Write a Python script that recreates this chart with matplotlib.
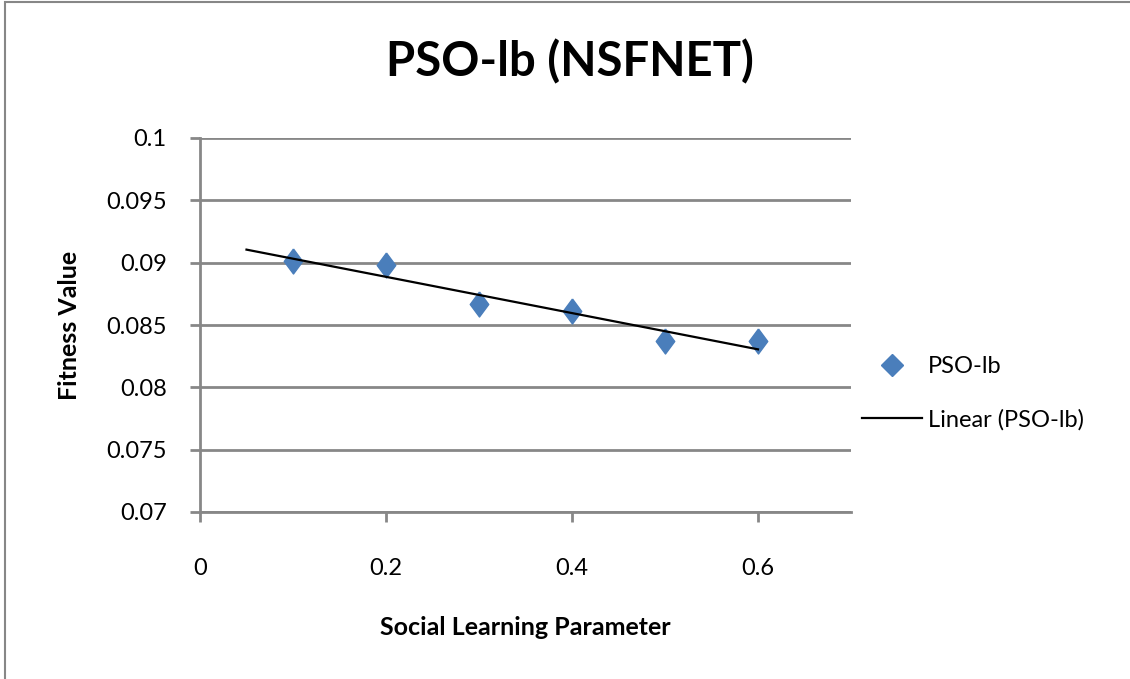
import numpy as np
import matplotlib.pyplot as plt
from matplotlib.lines import Line2D
from matplotlib.patches import Rectangle

plt.rcParams['font.family'] = ['Lato', 'DejaVu Sans']

social_param = [0.1, 0.2, 0.3, 0.4, 0.5, 0.6]
fitness = [0.0901, 0.0898, 0.0867, 0.0861, 0.0837, 0.0837]
x_ticks = [0, 0.2, 0.4, 0.6]
y_ticks = [0.07, 0.075, 0.08, 0.085, 0.09, 0.095, 0.1]
y_labels = ['0.07', '0.075', '0.08', '0.085', '0.09', '0.095', '0.1']

blue = '#4a7ebb'
grey = '#878787'

fig = plt.figure(figsize=(11.30, 6.79), dpi=100)
ax = fig.add_axes([200 / 1130, 1 - 512 / 679, 651 / 1130, 374 / 679])

# outer chart frame
fig.patches.append(Rectangle((5 / 1130, -0.1), 1.2, 1 - 2 / 679 + 0.1,
                             transform=fig.transFigure, fill=False,
                             edgecolor=grey, linewidth=1.5))

# tall diamond marker for the points
tall_diamond = [(0, 1), (0.74, 0), (0, -1), (-0.74, 0), (0, 1)]
ax.plot(social_param, fitness, linestyle='none', marker=tall_diamond,
        markersize=18, color=blue, zorder=3)

# least squares trendline
slope, intercept = np.polyfit(social_param, fitness, 1)
trend_x = np.array([0.05, 0.6])
ax.plot(trend_x, slope * trend_x + intercept, color='black', linewidth=1.6, zorder=4)

ax.set_xlim(0, 0.7)
ax.set_ylim(0.07, 0.1)
ax.set_xticks(x_ticks)
ax.set_xticklabels(['0', '0.2', '0.4', '0.6'])
ax.set_yticks(y_ticks)
ax.set_yticklabels(y_labels)
ax.yaxis.grid(True, color=grey, linewidth=2)
ax.set_axisbelow(True)

for side in ['top', 'right']:
    ax.spines[side].set_visible(False)
for side in ['left', 'bottom']:
    ax.spines[side].set_color(grey)
    ax.spines[side].set_linewidth(2)
ax.tick_params(axis='both', colors=grey, width=2, length=7, labelsize=17,
               labelcolor='black')
ax.tick_params(axis='x', pad=26)
ax.tick_params(axis='y', pad=17)

fig.text(570 / 1130, 1 - 76 / 679, 'PSO-lb (NSFNET)', fontsize=34,
         fontweight='bold', ha='center', va='baseline')
ax.set_xlabel('Social Learning Parameter', fontsize=18, fontweight='bold', labelpad=27)
ax.set_ylabel('Fitness Value', fontsize=18, fontweight='bold', labelpad=18)

handles = [Line2D([], [], linestyle='none', marker='D', markersize=11, color=blue),
           Line2D([], [], color='black', linewidth=1.6)]
fig.legend(handles, ['PSO-lb', 'Linear (PSO-lb)'], loc='center left',
           bbox_to_anchor=(862 / 1130, 1 - 393 / 679), frameon=False,
           fontsize=17, handlelength=2.55, handletextpad=0.25, labelspacing=1.35,
           borderpad=0, borderaxespad=0)

fig.savefig('out.png', dpi=100)
